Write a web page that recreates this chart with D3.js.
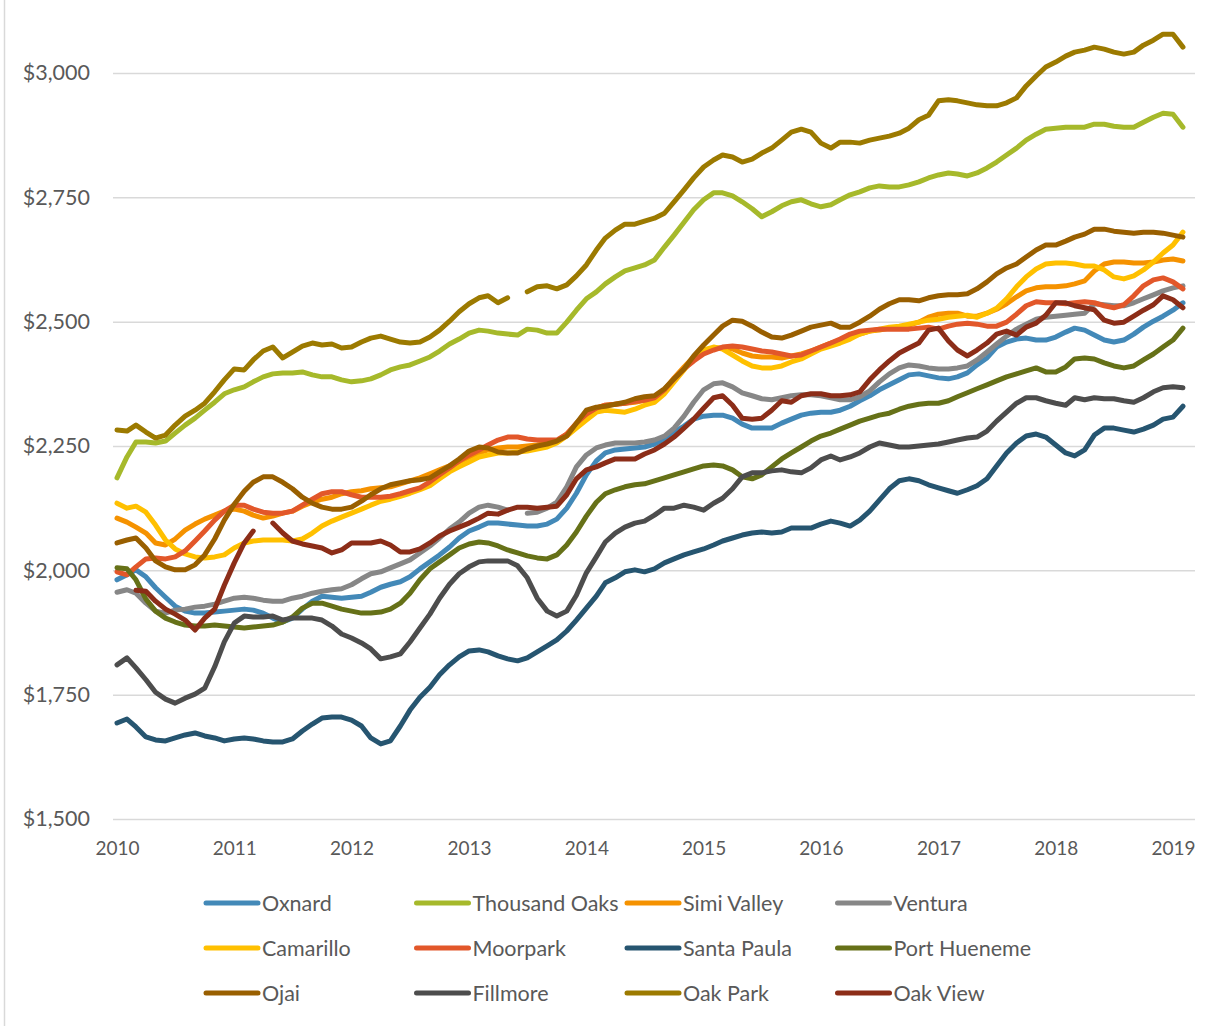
<!DOCTYPE html>
<html>
<head>
<meta charset="utf-8">
<script src="https://cdn.jsdelivr.net/npm/d3@7"></script>
<style>
  body { margin: 0; background: #fff; }
  svg { display: block; font-family: Lato, "Open Sans", sans-serif; }
</style>
</head>
<body>
<div class="chart"></div>
<script>
// monthly median rents, Jan 2010 - Feb 2019
var months = d3.timeMonth.range(new Date(2010, 0, 1), new Date(2019, 2, 1));
var yearLabels = ["2010", "2011", "2012", "2013", "2014", "2015", "2016", "2017", "2018", "2019"];
var rentTicks = [1500, 1750, 2000, 2250, 2500, 2750, 3000];

var oxnard = [1981,1991,2001,1987,1965,1946,1928,1918,1914,1914,
  1916,1918,1920,1922,1920,1914,1904,1896,1904,1922,
  1938,1948,1946,1944,1946,1948,1956,1966,1972,1977,
  1987,2003,2017,2031,2047,2065,2079,2087,2095,2095,
  2093,2091,2089,2089,2093,2103,2125,2155,2192,2220,
  2236,2242,2244,2246,2248,2254,2264,2278,2290,2304,
  2310,2312,2312,2306,2294,2286,2286,2286,2296,2304,
  2312,2316,2318,2318,2322,2330,2341,2351,2363,2373,
  2383,2393,2395,2391,2387,2385,2389,2397,2413,2427,
  2449,2459,2465,2467,2463,2463,2469,2479,2487,2483,
  2473,2463,2459,2463,2475,2489,2501,2511,2523,2538];

var thousandOaks = [2186,2228,2258,2258,2256,2260,2276,2292,2306,2322,
  2338,2355,2363,2369,2379,2389,2395,2397,2397,2399,
  2393,2389,2389,2383,2379,2381,2385,2393,2403,2409,
  2413,2421,2429,2441,2455,2465,2477,2483,2481,2477,
  2475,2473,2485,2483,2477,2477,2499,2523,2546,2560,
  2576,2590,2602,2608,2614,2624,2650,2674,2700,2725,
  2745,2759,2759,2753,2741,2727,2711,2721,2733,2741,
  2745,2737,2731,2735,2745,2755,2761,2769,2773,2771,
  2771,2775,2781,2789,2795,2799,2797,2793,2799,2809,
  2821,2835,2849,2865,2877,2887,2889,2891,2891,2891,
  2897,2897,2893,2891,2891,2901,2911,2919,2917,2891];

var simiValley = [2105,2097,2087,2075,2055,2051,2063,2081,2093,2103,
  2111,2119,2123,2119,2111,2105,2109,2115,2119,2129,
  2137,2143,2147,2154,2158,2160,2164,2166,2168,2174,
  2180,2186,2194,2202,2210,2218,2228,2236,2242,2246,
  2248,2248,2250,2252,2256,2260,2274,2294,2312,2326,
  2332,2334,2336,2338,2342,2347,2363,2387,2409,2429,
  2441,2447,2447,2445,2437,2431,2429,2429,2427,2431,
  2435,2441,2449,2457,2463,2469,2475,2481,2483,2487,
  2489,2493,2499,2509,2515,2517,2517,2511,2511,2517,
  2525,2536,2550,2562,2568,2570,2570,2572,2576,2582,
  2602,2616,2620,2620,2618,2618,2620,2624,2626,2622];

var ventura = [1956,1961,1954,1934,1918,1914,1920,1922,1926,1928,
  1932,1938,1944,1946,1944,1940,1938,1938,1944,1948,
  1954,1958,1961,1963,1971,1983,1993,1997,2005,2013,
  2021,2035,2049,2065,2083,2097,2115,2127,2131,2127,
  2121,null,2115,2117,2125,2137,2168,2208,2232,2246,
  2252,2256,2256,2256,2258,2262,2270,2286,2310,2338,
  2363,2375,2377,2369,2357,2351,2345,2343,2347,2351,
  2353,2353,2351,2347,2343,2343,2349,2361,2379,2395,
  2407,2413,2411,2407,2405,2405,2407,2411,2423,2439,
  2455,2471,2485,2495,2505,2509,2511,2513,2515,2517,
  2536,2534,2532,2532,2538,2546,2554,2562,2568,2572];

var camarillo = [2135,2125,2129,2117,2091,2061,2043,2033,2027,2025,
  2027,2031,2045,2055,2059,2061,2061,2061,2059,2063,
  2075,2089,2099,2107,2115,2123,2131,2139,2143,2149,
  2155,2162,2170,2184,2198,2208,2218,2228,2232,2236,
  2236,2238,2240,2244,2248,2256,2270,2286,2302,2318,
  2322,2320,2318,2324,2332,2338,2355,2379,2403,2427,
  2443,2449,2445,2433,2421,2411,2407,2407,2411,2419,
  2425,2435,2445,2451,2457,2465,2475,2481,2485,2489,
  2491,2495,2499,2503,2505,2509,2511,2513,2509,2517,
  2527,2546,2570,2590,2606,2616,2618,2618,2616,2612,
  2612,2604,2590,2586,2592,2604,2620,2638,2654,2680];

var moorpark = [1997,1991,2007,2023,2025,2023,2027,2039,2059,2079,
  2101,2119,2131,2131,2123,2117,2115,2115,2119,2131,
  2143,2154,2158,2158,2152,2147,2147,2147,2149,2154,
  2160,2166,2178,2192,2206,2220,2232,2242,2252,2262,
  2268,2268,2264,2262,2262,2262,2274,2296,2314,2326,
  2332,2334,2336,2340,2342,2347,2363,2385,2405,2421,
  2435,2443,2449,2451,2449,2445,2441,2439,2435,2431,
  2433,2441,2449,2457,2465,2475,2481,2483,2485,2485,
  2485,2485,2487,2489,2485,2491,2495,2497,2495,2491,
  2491,2499,2515,2532,2540,2538,2538,2536,2538,2540,
  2538,2532,2528,2534,2552,2572,2584,2588,2580,2566];

var santaPaula = [1693,1701,1685,1665,1659,1657,1663,1669,1673,1667,
  1663,1657,1661,1663,1661,1657,1655,1655,1661,1677,
  1691,1703,1705,1705,1699,1687,1663,1651,1657,1687,
  1719,1745,1765,1790,1810,1826,1838,1840,1836,1828,
  1822,1818,1824,1836,1848,1860,1878,1900,1924,1948,
  1975,1985,1997,2001,1997,2003,2015,2023,2031,2037,
  2043,2051,2059,2065,2071,2075,2077,2075,2077,2085,
  2085,2085,2093,2099,2095,2089,2101,2119,2141,2164,
  2180,2184,2180,2172,2166,2160,2155,2162,2170,2184,
  2210,2236,2256,2270,2274,2268,2252,2236,2230,2242,
  2272,2286,2286,2282,2278,2284,2292,2304,2308,2330];

var portHueneme = [2005,2003,1981,1942,1918,1904,1896,1890,1888,1888,
  1890,1888,1886,1884,1886,1888,1890,1896,1906,1924,
  1934,1934,1928,1922,1918,1914,1914,1916,1922,1934,
  1954,1981,2003,2017,2031,2045,2053,2057,2055,2049,
  2041,2035,2029,2025,2023,2031,2051,2077,2109,2137,
  2154,2162,2168,2172,2174,2180,2186,2192,2198,2204,
  2210,2212,2210,2202,2188,2184,2192,2208,2224,2236,
  2248,2260,2270,2276,2284,2292,2300,2306,2312,2316,
  2324,2330,2334,2336,2336,2341,2349,2357,2365,2373,
  2381,2389,2395,2401,2407,2399,2399,2409,2425,2427,
  2425,2417,2411,2407,2411,2423,2435,2449,2463,2487];

var ojai = [2055,2061,2065,2045,2019,2007,2001,2001,2011,2031,
  2063,2101,2133,2159,2177,2188,2188,2177,2164,2147,
  2135,2127,2123,2123,2127,2139,2152,2164,2172,2176,
  2180,2182,2186,2198,2210,2224,2240,2248,2246,2238,
  2236,2236,2244,2250,2254,2260,2270,2296,2322,2328,
  2330,2334,2338,2345,2349,2351,2365,2385,2405,2431,
  2453,2473,2491,2503,2501,2491,2479,2469,2467,2473,
  2481,2489,2493,2497,2489,2489,2499,2511,2525,2536,
  2544,2544,2542,2548,2552,2554,2554,2556,2566,2580,
  2596,2608,2616,2630,2644,2654,2654,2662,2670,2676,
  2686,2686,2682,2680,2678,2680,2680,2678,2674,2670];

var fillmore = [1810,1824,1804,1780,1755,1741,1733,1743,1751,1763,
  1806,1856,1894,1908,1906,1906,1908,1900,1904,1904,
  1904,1900,1888,1872,1864,1854,1842,1822,1826,1832,
  1856,1884,1912,1944,1972,1993,2007,2017,2019,2019,
  2019,2009,1985,1944,1918,1908,1918,1950,1995,2027,
  2057,2075,2087,2095,2099,2111,2125,2125,2131,2127,
  2121,2135,2145,2164,2188,2196,2196,2200,2202,2198,
  2196,2206,2222,2230,2222,2228,2236,2248,2256,2252,
  2248,2248,2250,2252,2254,2258,2262,2266,2268,2280,
  2300,2318,2336,2347,2347,2341,2336,2332,2347,2343,
  2347,2345,2345,2341,2338,2347,2359,2367,2369,2367];

var oakPark = [2282,2280,2292,2278,2266,2272,2292,2310,2322,2336,
  2359,2383,2405,2403,2423,2441,2449,2427,2439,2451,
  2457,2453,2455,2447,2449,2459,2467,2471,2465,2459,
  2457,2459,2469,2483,2501,2520,2536,2548,2552,2538,
  2548,null,2560,2570,2572,2566,2574,2592,2614,2644,
  2668,2684,2696,2696,2702,2708,2718,2741,2765,2789,
  2811,2825,2835,2831,2821,2827,2839,2849,2865,2881,
  2887,2881,2859,2849,2861,2861,2859,2865,2869,2873,
  2879,2889,2906,2915,2944,2946,2944,2940,2936,2934,
  2934,2940,2950,2974,2994,3012,3022,3034,3042,3046,
  3052,3048,3042,3038,3042,3056,3066,3078,3078,3052];

var oakView = [null,null,1960,1958,1938,1922,1912,1900,1880,1904,
  1922,1970,2015,2055,2079,null,2095,2075,2059,2053,
  2049,2045,2035,2041,2055,2055,2055,2059,2051,2037,
  2037,2043,2055,2069,2079,2087,2095,2105,2115,2113,
  2121,2127,2127,2125,2127,2129,2152,2184,2202,2208,
  2216,2224,2224,2224,2234,2242,2254,2268,2286,2304,
  2326,2347,2351,2332,2306,2304,2306,2322,2341,2338,
  2351,2355,2355,2351,2351,2353,2359,2383,2403,2421,
  2437,2447,2457,2483,2487,2461,2443,2431,2443,2457,
  2475,2481,2473,2489,2497,2513,2538,2538,2532,2528,
  2524,2503,2497,2499,2511,2523,2534,2552,2544,2528];

var series = [
  { name: "Oxnard",        color: "#4389B8", values: oxnard },
  { name: "Thousand Oaks", color: "#A6B92B", values: thousandOaks },
  { name: "Simi Valley",   color: "#F59200", values: simiValley },
  { name: "Ventura",       color: "#878787", values: ventura },
  { name: "Camarillo",     color: "#FFC000", values: camarillo },
  { name: "Moorpark",      color: "#E2572A", values: moorpark },
  { name: "Santa Paula",   color: "#265570", values: santaPaula },
  { name: "Port Hueneme",  color: "#667118", values: portHueneme },
  { name: "Ojai",          color: "#995F00", values: ojai },
  { name: "Fillmore",      color: "#4D4D4D", values: fillmore },
  { name: "Oak Park",      color: "#9C7A00", values: oakPark },
  { name: "Oak View",      color: "#8C2D18", values: oakView }
];

var width = 1232, height = 1026;
var plotLeft = 113, plotRight = 1195;
var textColor = "#595959", gridColor = "#D9D9D9";

var svg = d3.select(".chart")
    .append("svg")
    .attr("width", width)
    .attr("height", height);

svg.append("rect")
    .attr("width", width)
    .attr("height", height)
    .attr("fill", "#fff");

// chart frame, only left edge is visible in the picture
svg.append("line")
    .attr("x1", 4.5).attr("x2", 4.5)
    .attr("y1", 0).attr("y2", height)
    .attr("stroke", gridColor)
    .attr("stroke-width", 1.5);

var x = d3.scaleTime()
    .domain([new Date(2010, 0, 1), new Date(2019, 0, 1)])
    .range([117, 1173]);

var y = d3.scaleLinear()
    .domain([1500, 3000])
    .range([819, 73]);

// y axis with gridlines
var yAxis = svg.append("g")
    .attr("transform", "translate(" + plotLeft + ",0)")
    .call(d3.axisLeft(y)
        .tickValues(rentTicks)
        .tickSize(-(plotRight - plotLeft))
        .tickPadding(23)
        .tickFormat(function(d) { return "$" + d3.format(",")(d); }));

yAxis.select(".domain").remove();
yAxis.selectAll(".tick line")
    .attr("stroke", gridColor)
    .attr("stroke-width", 1.5);
yAxis.selectAll(".tick text")
    .attr("fill", textColor)
    .style("font-size", "21.5px")
    .style("font-family", "Lato, sans-serif");

// x axis, one label per year
var xAxis = svg.append("g")
    .attr("transform", "translate(0,819)")
    .call(d3.axisBottom(x)
        .ticks(d3.timeYear.every(1))
        .tickSize(0)
        .tickPadding(23)
        .tickFormat(function(d, i) { return yearLabels[i]; }));

xAxis.select(".domain").remove();
xAxis.selectAll(".tick text")
    .attr("fill", textColor)
    .style("font-size", "19px")
    .style("font-family", "Lato, sans-serif");

var line = d3.line()
    .defined(function(d) { return d != null; })
    .x(function(d, i) { return x(months[i]); })
    .y(function(d) { return y(d); });

svg.append("g")
    .selectAll("path")
    .data(series)
    .enter()
    .append("path")
    .attr("fill", "none")
    .attr("stroke", function(d) { return d.color; })
    .attr("stroke-width", 5)
    .attr("stroke-linejoin", "round")
    .attr("stroke-linecap", "round")
    .attr("d", function(d) { return line(d.values); });

// legend, 4 columns x 3 rows
var legend = svg.append("g")
    .selectAll(".key")
    .data(series)
    .enter()
    .append("g")
    .attr("class", "key")
    .attr("transform", function(d, i) {
        return "translate(" + (204 + (i % 4) * 210.5) + "," + (903 + Math.floor(i / 4) * 45) + ")";
    });

legend.append("line")
    .attr("x1", 2).attr("x2", 54)
    .attr("stroke", function(d) { return d.color; })
    .attr("stroke-width", 5)
    .attr("stroke-linecap", "round");

legend.append("text")
    .attr("x", 58)
    .attr("dy", "0.35em")
    .attr("fill", textColor)
    .style("font-size", "21.5px")
    .text(function(d) { return d.name; });
</script>
</body>
</html>
